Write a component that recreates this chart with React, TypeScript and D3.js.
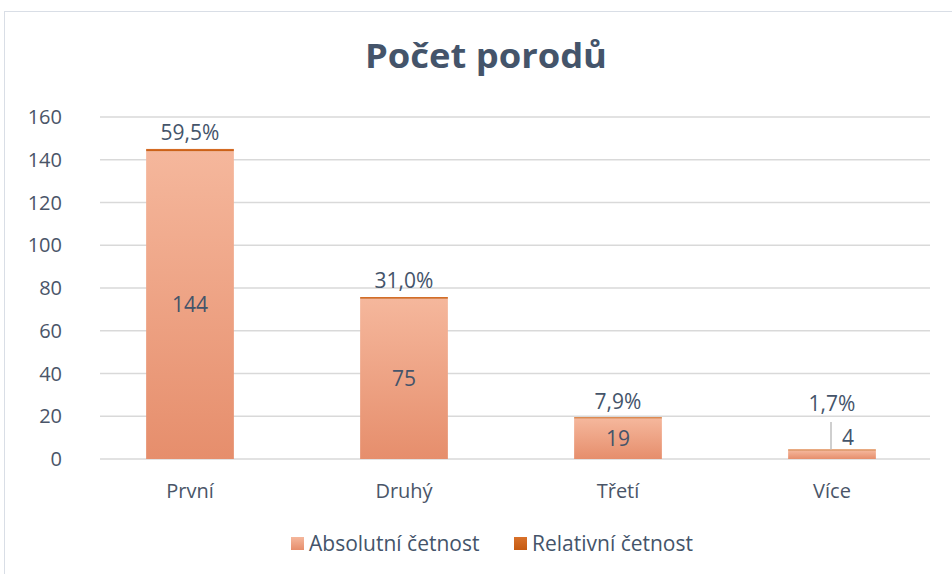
import React from "react";
import * as d3 from "d3";

const categories = ["První", "Druhý", "Třetí", "Více"];
const absolute = [144, 75, 19, 4];
const relative = [0.595, 0.31, 0.079, 0.017];
const relativeLabels = ["59,5%", "31,0%", "7,9%", "1,7%"];
const yTicks = [0, 20, 40, 60, 80, 100, 120, 140, 160];
const seriesNames = ["Absolutní četnost", "Relativní četnost"];

const W = 952, H = 574;
const FONT = "'Open Sans', sans-serif";
const TEXT = "#44546A";
const AXIS = "#4A5568";

export default function App() {
  const x = d3.scaleBand<string>().domain(categories).range([83, 939]).paddingInner(0.59).paddingOuter(0.295);
  const y = d3.scaleLinear().domain([0, 160]).range([459, 117]);
  const bw = x.bandwidth();
  return (
    <svg width={W} height={H} style={{ position: "absolute", left: 0, top: 0 }}>
      <defs>
        <linearGradient id="absGrad" x1="0" y1="0" x2="0" y2="1">
          <stop offset="0%" stopColor="#F5B79C" />
          <stop offset="100%" stopColor="#E68E6C" />
        </linearGradient>
        <linearGradient id="relGrad" x1="0" y1="0" x2="0" y2="1">
          <stop offset="0%" stopColor="#D9712A" />
          <stop offset="100%" stopColor="#C55A11" />
        </linearGradient>
      </defs>
      <rect x={0} y={0} width={W} height={H} fill="#fff" />
      <rect x={4.5} y={11.5} width={W + 10} height={H} fill="#fff" stroke="#D9DEE6" />
      <text x={486} y={68} textAnchor="middle" fontFamily={FONT} fontWeight={700} fontSize={34} fill={TEXT} textLength={242} lengthAdjust="spacingAndGlyphs">Počet porodů</text>
      {yTicks.map(t => (
        <g key={t}>
          <line x1={100} x2={930} y1={y(t)} y2={y(t)} stroke="#D9D9D9" strokeWidth={1.3} />
          <text x={62} y={y(t)} dy="0.35em" textAnchor="end" fontFamily={FONT} fontSize={20} fill={AXIS}>{t}</text>
        </g>
      ))}
      {categories.map((c, i) => {
        const x0 = x(c)!;
        const cx = x0 + bw / 2;
        const yTop = y(absolute[i]);
        const yRel = y(absolute[i] + relative[i]);
        return (
          <g key={c}>
            <rect x={x0} y={yTop} width={bw} height={y(0) - yTop} fill="url(#absGrad)" />
            <rect x={x0} y={yRel - 1} width={bw} height={yTop - yRel + 1} fill="url(#relGrad)" />
            {absolute[i] >= 10 ? (
              <text x={cx} y={(yTop + y(0)) / 2} dy="0.35em" textAnchor="middle" fontFamily={FONT} fontSize={21} fill={TEXT}>{absolute[i]}</text>
            ) : (
              <g>
                <line x1={cx - 1} x2={cx - 1} y1={422} y2={yTop - 1} stroke="#BFBFBF" strokeWidth={1.5} />
                <text x={cx + 16} y={438} dy="0.35em" textAnchor="middle" fontFamily={FONT} fontSize={21} fill={TEXT}>{absolute[i]}</text>
              </g>
            )}
            <text x={cx} y={absolute[i] >= 10 ? yRel - 17 : 404} dy="0.35em" textAnchor="middle" fontFamily={FONT} fontSize={21} fill={TEXT}>{relativeLabels[i]}</text>
            <text x={cx} y={491} dy="0.35em" textAnchor="middle" fontFamily={FONT} fontSize={20} fill={AXIS}>{c}</text>
          </g>
        );
      })}
      {seriesNames.map((s, i) => {
        const lx = i === 0 ? 291 : 514;
        return (
          <g key={s}>
            <rect x={lx} y={537} width={13} height={13} fill={i === 0 ? "url(#absGrad)" : "url(#relGrad)"} />
            <text x={lx + 18} y={543.5} dy="0.35em" fontFamily={FONT} fontSize={21} fill={TEXT}>{s}</text>
          </g>
        );
      })}
    </svg>
  );
}
